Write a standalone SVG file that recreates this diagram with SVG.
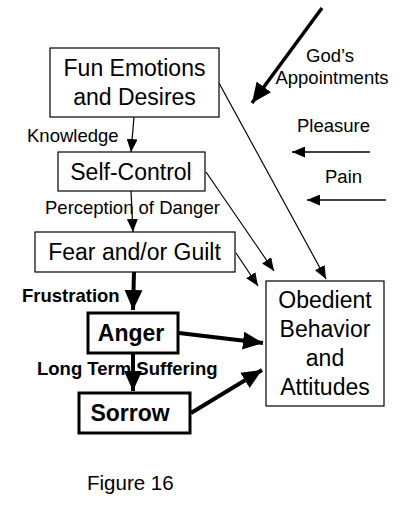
<svg xmlns="http://www.w3.org/2000/svg" width="409" height="509" viewBox="0 0 409 509">
<style>
.box{fill:#fff;stroke:#000;stroke-width:1.2}
.bbox{fill:#fff;stroke:#000;stroke-width:3}
.t{font-family:"Liberation Sans",Arial,sans-serif;fill:#000}
.n{font-size:23px;text-anchor:middle}
.b{font-weight:bold}
.l{font-size:18.5px}
.thin{stroke:#000;stroke-width:1.2;fill:none}
.thick{stroke:#000;stroke-width:4;fill:none}
</style>
<defs>
<marker id="ah" markerUnits="userSpaceOnUse" markerWidth="13" markerHeight="11" refX="13" refY="5.5" orient="auto"><path d="M0,0 L13,5.5 L0,11 z" fill="#000"/></marker>
<marker id="ahb" markerUnits="userSpaceOnUse" markerWidth="20" markerHeight="18" refX="20" refY="9" orient="auto"><path d="M0,0 L20,9 L0,18 z" fill="#000"/></marker>
</defs>
<rect width="409" height="509" fill="#fff"/>
<g id="connectors">
<line class="thin" x1="134" y1="117" x2="131" y2="152" marker-end="url(#ah)"/>
<line class="thin" x1="131" y1="191" x2="133" y2="232" marker-end="url(#ah)"/>
<line class="thick" x1="134" y1="272" x2="133" y2="310" marker-end="url(#ahb)"/>
<line class="thick" x1="133" y1="353" x2="133" y2="391" marker-end="url(#ahb)"/>
<line class="thick" x1="179" y1="333" x2="263" y2="343" marker-end="url(#ahb)"/>
<line class="thick" x1="191" y1="413" x2="262" y2="370" marker-end="url(#ahb)"/>
<line class="thin" x1="219" y1="83" x2="326" y2="279" marker-end="url(#ah)"/>
<line class="thin" x1="206" y1="172" x2="274" y2="271" marker-end="url(#ah)"/>
<line class="thin" x1="236" y1="253" x2="258" y2="286" marker-end="url(#ah)"/>
<line stroke="#000" stroke-width="3.5" x1="322" y1="8" x2="252" y2="103" marker-end="url(#ahb)"/>
<line stroke="#000" stroke-width="1.5" x1="370" y1="152" x2="292" y2="152" marker-end="url(#ah)"/>
<line stroke="#000" stroke-width="1.5" x1="386" y1="200" x2="307" y2="200" marker-end="url(#ah)"/>
</g>
<g id="fun">
<rect class="box" x="50" y="48" width="169" height="69"/>
<text class="t n" x="134.5" y="76">Fun Emotions</text>
<text class="t n" x="134.5" y="105">and Desires</text>
</g>
<g id="selfcontrol">
<rect class="box" x="58" y="152" width="147" height="39"/>
<text class="t n" x="131" y="180">Self-Control</text>
</g>
<g id="fear">
<rect class="box" x="35" y="232" width="200" height="40"/>
<text class="t n" x="134.5" y="260">Fear and/or Guilt</text>
</g>
<g id="anger">
<rect class="bbox" x="88" y="313" width="90" height="40"/>
<text class="t n b" x="131" y="341">Anger</text>
</g>
<g id="sorrow">
<rect class="bbox" x="79" y="393" width="111" height="40"/>
<text class="t n b" x="130" y="421">Sorrow</text>
</g>
<g id="obedient">
<rect class="box" x="266" y="281" width="118" height="125"/>
<text class="t n" x="325" y="308" font-size="24">Obedient</text>
<text class="t n" x="325" y="337" font-size="24">Behavior</text>
<text class="t n" x="325" y="366" font-size="24">and</text>
<text class="t n" x="325" y="395" font-size="24">Attitudes</text>
</g>
<g id="labels">
<text class="t l" x="27" y="142">Knowledge</text>
<text class="t l" x="45" y="214">Perception of Danger</text>
<text class="t l b" x="22" y="302">Frustration</text>
<text class="t l b" x="37" y="375">Long Term Suffering</text>
<text class="t l" x="330" y="62" text-anchor="middle">God’s</text>
<text class="t l" x="332" y="84" text-anchor="middle">Appointments</text>
<text class="t l" x="297" y="132">Pleasure</text>
<text class="t l" x="325" y="183">Pain</text>
<text class="t" x="87" y="490" font-size="20.5">Figure 16</text>
</g>
</svg>
